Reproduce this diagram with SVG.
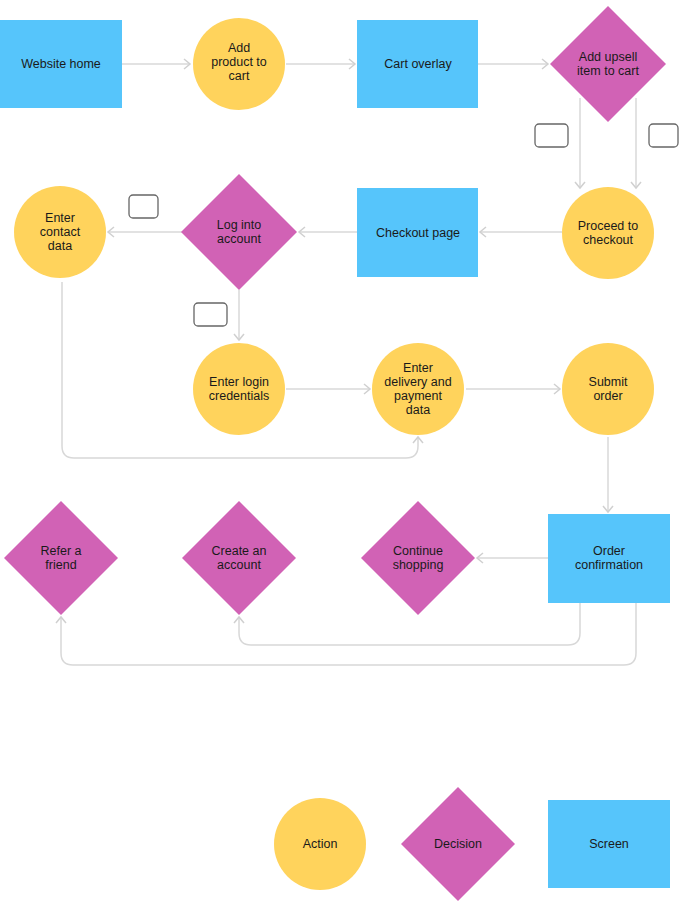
<svg xmlns="http://www.w3.org/2000/svg" width="679" height="902" viewBox="0 0 679 902">
<style>
.s{fill:#56C5FB}.a{fill:#FFD35C}.d{fill:#D162B5}
text{font-family:"Helvetica","Liberation Sans",Arial,sans-serif;font-size:12.5px;fill:#1a1a1a;text-anchor:middle}
.c path{fill:none;stroke:#d8d8d8;stroke-width:1.5;marker-end:url(#ar)}
.lb{fill:#fff;stroke:#666;stroke-width:1.3}
</style>
<defs><marker id="ar" markerWidth="12" markerHeight="12" refX="9" refY="6" orient="auto" markerUnits="userSpaceOnUse"><path d="M3,1 L9,6 L3,11" fill="none" stroke="#d0d0d0" stroke-width="1.5"/></marker></defs>
<rect width="679" height="902" fill="#fff"/>
<g class="c">
<path d="M122,64H190"/><path d="M286,64H355"/><path d="M478,64H548"/>
<path d="M580,98V188"/><path d="M636,98V188"/>
<path d="M562,232H480"/><path d="M357,232H299"/><path d="M182,232H108"/>
<path d="M239,290V340"/><path d="M286,389H370"/><path d="M466,389H560"/>
<path d="M62,282V446Q62,458 74,458H406Q418,458 418,446V437"/>
<path d="M608,437V512"/><path d="M548,558H477"/>
<path d="M580,603V633Q580,645 568,645H251Q239,645 239,633V617"/>
<path d="M636,603V653Q636,665 624,665H73Q61,665 61,653V617"/>
</g>
<rect class="lb" x="535" y="124" width="33" height="23" rx="4"/>
<rect class="lb" x="649" y="124" width="29" height="23" rx="4"/>
<rect class="lb" x="129" y="195" width="29" height="23" rx="4"/>
<rect class="lb" x="194" y="303" width="33" height="23" rx="4"/>
<g id="home"><rect class="s" x="0" y="20" width="122" height="88"/><text x="61" y="68">Website home</text></g>
<g id="addprod"><circle class="a" cx="239" cy="64" r="46"/><text x="239" y="52">Add</text><text x="239" y="66">product to</text><text x="239" y="80">cart</text></g>
<g id="cart"><rect class="s" x="357" y="20" width="121" height="88"/><text x="418" y="68">Cart overlay</text></g>
<g id="upsell"><polygon class="d" points="608,6 666,64 608,122 550,64"/><text x="608" y="61">Add upsell</text><text x="608" y="75">item to cart</text></g>
<g id="proceed"><circle class="a" cx="608" cy="233" r="46"/><text x="608" y="230">Proceed to</text><text x="608" y="244">checkout</text></g>
<g id="checkout"><rect class="s" x="357" y="188" width="121" height="89"/><text x="418" y="237">Checkout page</text></g>
<g id="login"><polygon class="d" points="239,174 297,232 239,290 181,232"/><text x="239" y="229">Log into</text><text x="239" y="243">account</text></g>
<g id="contact"><circle class="a" cx="60" cy="232" r="46"/><text x="60" y="222">Enter</text><text x="60" y="236">contact</text><text x="60" y="250">data</text></g>
<g id="cred"><circle class="a" cx="239" cy="389" r="46"/><text x="239" y="386">Enter login</text><text x="239" y="400">credentials</text></g>
<g id="delivery"><circle class="a" cx="418" cy="389" r="46"/><text x="418" y="372">Enter</text><text x="418" y="386">delivery and</text><text x="418" y="400">payment</text><text x="418" y="414">data</text></g>
<g id="submit"><circle class="a" cx="608" cy="389" r="46"/><text x="608" y="386">Submit</text><text x="608" y="400">order</text></g>
<g id="confirm"><rect class="s" x="548" y="514" width="122" height="89"/><text x="609" y="555">Order</text><text x="609" y="569">confirmation</text></g>
<g id="continue"><polygon class="d" points="418,501 475,558 418,615 361,558"/><text x="418" y="555">Continue</text><text x="418" y="569">shopping</text></g>
<g id="create"><polygon class="d" points="239,501 296,558 239,615 182,558"/><text x="239" y="555">Create an</text><text x="239" y="569">account</text></g>
<g id="refer"><polygon class="d" points="61,501 118,558 61,615 4,558"/><text x="61" y="555">Refer a</text><text x="61" y="569">friend</text></g>
<g id="leg-action"><circle class="a" cx="320" cy="844" r="46"/><text x="320" y="848">Action</text></g>
<g id="leg-decision"><polygon class="d" points="458,787 515,844 458,901 401,844"/><text x="458" y="848">Decision</text></g>
<g id="leg-screen"><rect class="s" x="548" y="800" width="122" height="88"/><text x="609" y="848">Screen</text></g>
</svg>
